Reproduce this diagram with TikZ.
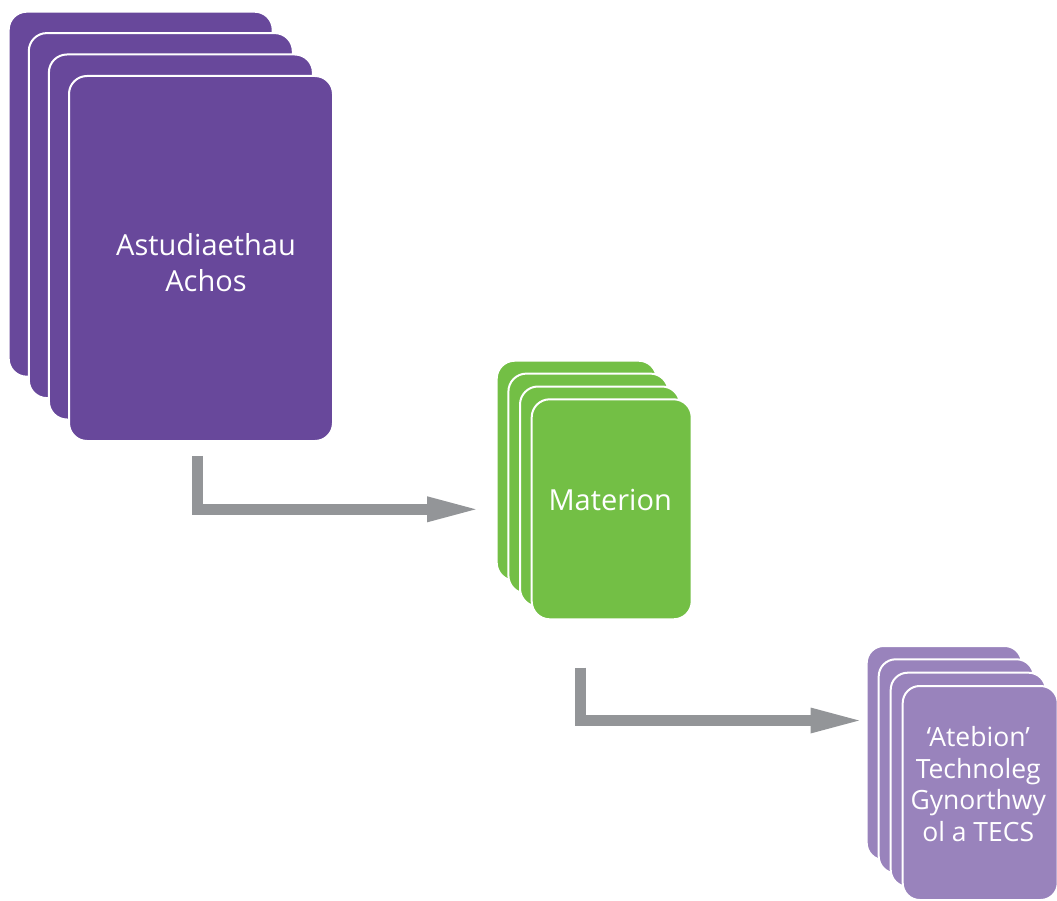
\documentclass[tikz,border=0pt]{standalone}
\usepackage{fontspec}
\newfontfamily\cardfont{Open Sans}
\usetikzlibrary{calc,arrows.meta}
\definecolor{darkpurple}{RGB}{104,72,155}
\definecolor{cardgreen}{RGB}{115,191,69}
\definecolor{lightpurple}{RGB}{153,131,188}
\definecolor{arrowgray}{RGB}{147,149,152}
\tikzset{
  card/.style={draw=white, line width=2pt, rounded corners=18pt, inner sep=0pt},
  pcard/.style={card, fill=darkpurple, minimum width=264pt, minimum height=365pt},
  gcard/.style={card, fill=cardgreen, minimum width=160pt, minimum height=220pt},
  lcard/.style={card, fill=lightpurple, minimum width=155pt, minimum height=214pt, rounded corners=17pt},
  cardtext/.style={text=white, align=center, inner sep=0pt, font=\cardfont\fontsize{29}{35.5}\selectfont},
  smalltext/.style={text=white, align=center, inner sep=0pt, font=\cardfont\fontsize{26.5}{31.7}\selectfont},
  arr/.style={draw=arrowgray, line width=11pt, line join=miter, -{Triangle[length=48.5pt,width=26pt,line width=0pt]}}
}
\begin{document}
\begin{tikzpicture}[x=1pt, y=-1pt]
\fill[white] (0,0) rectangle (1057,901);
\useasboundingbox (0,0) rectangle (1057,901);
% purple stack
\node[pcard] (p1) at (140.7,194.2) {};
\node[pcard] (p2) at (160.8,215.6) {};
\node[pcard] (p3) at (180.9,237) {};
\node[pcard] (p4) at (201,258.5) {};
\node[cardtext] (pt) at ($(p4.center)+(5,4)$) {Astudiaethau\\Achos};
% green stack
\node[gcard] (g1) at (576.7,470.7) {};
\node[gcard] (g2) at (588.4,483.6) {};
\node[gcard] (g3) at (600,496.5) {};
\node[gcard] (g4) at (611.7,509.3) {};
\node[cardtext] (gt) at ($(g4.center)+(-1.5,-9)$) {Materion};
% light purple stack
\node[lcard] (l1) at (944.2,753) {};
\node[lcard] (l2) at (956.2,766.3) {};
\node[lcard] (l3) at (968.2,779.7) {};
\node[lcard] (l4) at (980.2,793) {};
\node[smalltext] (lt) at ($(l4.center)+(-2,-9)$) {‘Atebion’\\Technoleg\\Gynorthwy\\ol a TECS};
% arrows
\draw[arr] ($(p4.south)+(-3.8,13.75)$) |- ($(g1.west |- g4.west)+(-20,0)$);
\draw[arr] ($(g4.south)+(-31.2,47.4)$) |- ($(l1.west)+(-6.7,-32.5)$);
\end{tikzpicture}
\end{document}
